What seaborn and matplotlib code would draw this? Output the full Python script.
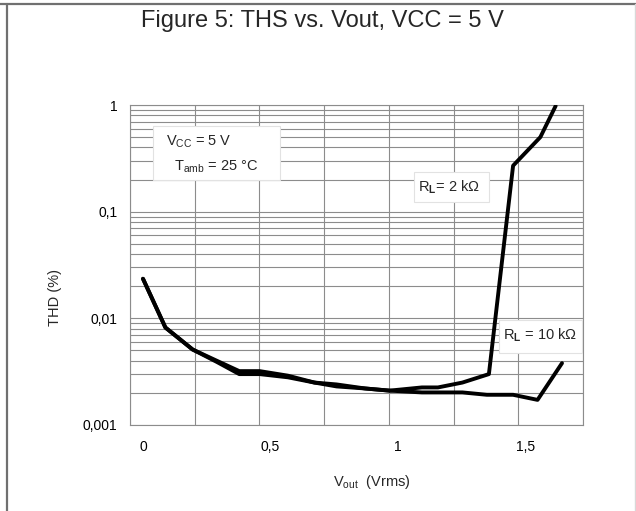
import numpy as np
import pandas as pd
import seaborn as sns
import matplotlib.pyplot as plt
from matplotlib.lines import Line2D
from matplotlib.patches import Rectangle
from matplotlib.ticker import FixedLocator, NullFormatter, LogLocator

# THD vs Vout
vout_2k = [0, 0.088, 0.195, 0.29, 0.378, 0.458, 0.569, 0.673, 0.76, 0.872, 0.968,
           1.095, 1.158, 1.254, 1.358, 1.453, 1.56, 1.62]
thd_2k = [0.0235, 0.0082, 0.0051, 0.0040, 0.0032, 0.0032, 0.0029, 0.0025, 0.0024, 0.0022, 0.0021,
          0.00225, 0.00225, 0.0025, 0.0030, 0.27, 0.50, 0.98]

vout_10k = [0, 0.088, 0.195, 0.29, 0.378, 0.458, 0.569, 0.673, 0.76, 0.872, 0.968,
            1.095, 1.254, 1.35, 1.453, 1.549, 1.645]
thd_10k = [0.0235, 0.0082, 0.0051, 0.0039, 0.0030, 0.0030, 0.0028, 0.0025, 0.0023, 0.0022, 0.0021,
           0.00202, 0.00202, 0.00192, 0.00192, 0.00172, 0.0038]

xtick_pos = [0, 0.5, 1, 1.5]
xtick_labels = ["0", "0,5", "1", "1,5"]
ytick_pos = [0.001, 0.01, 0.1, 1]
ytick_labels = ["0,001", "0,01", "0,1", "1"]

df = pd.concat([
    pd.DataFrame({"vout": vout_2k, "thd": thd_2k, "load": "2k"}),
    pd.DataFrame({"vout": vout_10k, "thd": thd_10k, "load": "10k"}),
])

sns.set_style("white")
plt.rcParams['font.family'] = ['Liberation Sans', 'DejaVu Sans']
plt.rcParams['mathtext.fontset'] = 'custom'
plt.rcParams['mathtext.rm'] = 'Liberation Sans'
plt.rcParams['mathtext.bf'] = 'Liberation Sans:bold'

fig = plt.figure(figsize=(6.36, 5.11), dpi=100)
ax = fig.add_axes([0.2044, 0.1683, 0.7123, 0.6262])

grid_c = '#8c8c8c'
xmin, xmax = -0.051, 1.7275

sns.lineplot(data=df, x="vout", y="thd", units="load", estimator=None, sort=False,
             color='black', lw=2.8, ax=ax, zorder=5)

ax.set_yscale('log')
ax.set_xlim(xmin, xmax)
ax.set_ylim(0.001, 1)

# datasheet grid doesn't line up with the tick labels
ax.xaxis.set_major_locator(FixedLocator(xtick_pos))
ax.set_xticklabels(xtick_labels)
ax.xaxis.set_minor_locator(FixedLocator(np.linspace(xmin, xmax, 8)))
ax.set_yticks(ytick_pos)
ax.set_yticklabels(ytick_labels)
ax.yaxis.set_minor_locator(LogLocator(base=10, subs=np.arange(2, 10)))
ax.yaxis.set_minor_formatter(NullFormatter())

ax.grid(False)
ax.grid(which='minor', axis='x', color=grid_c, lw=0.8)
ax.grid(which='both', axis='y', color=grid_c, lw=0.8)
ax.tick_params(which='both', length=0, labelsize=10, colors='black')
ax.tick_params(axis='x', pad=11)
ax.tick_params(axis='y', pad=9)
for s in ax.spines.values():
    s.set_color(grid_c)
    s.set_linewidth(0.8)

ax.set_ylabel('THD (%)', fontsize=10.5)
ax.yaxis.set_label_coords(-0.15, 0.40)
ax.set_xlabel(r'$\mathregular{V_{out}}$  (Vrms)', fontsize=10.5)
ax.xaxis.set_label_coords(0.534, -0.15)

# annotation boxes
box_kw = dict(transform=ax.transAxes, facecolor='white', edgecolor='#e2e2e2', lw=0.8, zorder=3)
ax.add_patch(Rectangle((0.051, 0.766), 0.28, 0.168, **box_kw))
ax.add_patch(Rectangle((0.628, 0.698), 0.164, 0.094, **box_kw))
ax.add_patch(Rectangle((0.815, 0.225), 0.183, 0.103, **box_kw))

ax.text(0.079, 0.885, r'$\mathregular{V_{CC}}$ = 5 V', transform=ax.transAxes,
        fontsize=10.5, va='center', zorder=4)
ax.text(0.097, 0.806, r'$\mathregular{T_{amb}}$ = 25 °C', transform=ax.transAxes,
        fontsize=10.5, va='center', zorder=4)
ax.text(0.636, 0.742, r'$\mathregular{R}_{\mathbf{L}}$= 2 k$\Omega$', transform=ax.transAxes,
        fontsize=10.5, va='center', zorder=4)
ax.text(0.824, 0.28, r'$\mathregular{R}_{\mathbf{L}}$ = 10 k$\Omega$', transform=ax.transAxes,
        fontsize=10.5, va='center', zorder=4)

fig.text(0.507, 0.958, 'Figure 5: THS vs. Vout, VCC = 5 V', fontsize=17,
         ha='center', va='center')

# page frame
fig.add_artist(Line2D([0, 1], [0.992, 0.992], color='#707070', lw=1.6, transform=fig.transFigure))
fig.add_artist(Line2D([0.011, 0.011], [0, 0.992], color='#707070', lw=1.6, transform=fig.transFigure))
fig.add_artist(Line2D([0.998, 0.998], [0, 0.992], color='#d8d8d8', lw=1.0, transform=fig.transFigure))

fig.savefig('out.png', dpi=100)
